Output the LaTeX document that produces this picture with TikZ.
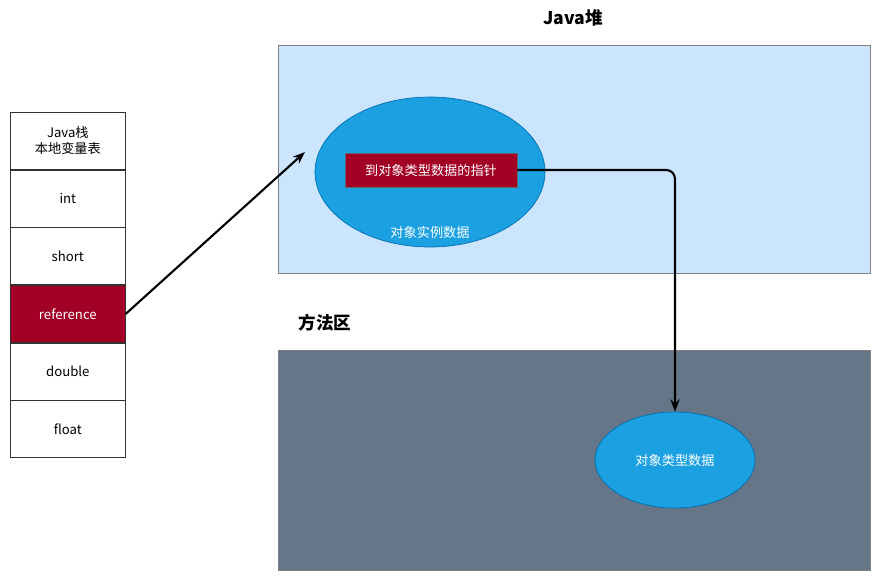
\documentclass[tikz,border=0pt]{standalone}
\usepackage{fontspec}
\setmainfont{Noto Sans CJK SC}
\usepackage{tikz}
\usetikzlibrary{positioning,arrows.meta,shapes.geometric}
\definecolor{heapblue}{HTML}{CCE5FF}
\definecolor{ellblue}{HTML}{1BA1E2}
\definecolor{ellborder}{HTML}{006EAF}
\definecolor{refred}{HTML}{A20025}
\definecolor{slate}{HTML}{647687}
\begin{document}
\begin{tikzpicture}[x=0.02cm, y=-0.02cm,
  cell/.style={draw=black!80, minimum width=2.3cm, minimum height=1.14cm, font=\fontsize{7.5}{9}\selectfont, align=center, inner sep=0pt},
  area/.style={draw=black!50, anchor=north west, inner sep=0pt},
  blob/.style={ellipse, draw=ellborder, fill=ellblue, text=white, font=\fontsize{7.5}{9}\selectfont, inner sep=0pt},
  title/.style={font=\fontsize{10}{12}\selectfont\bfseries},
  link/.style={-{Stealth[length=7pt]}, very thick, rounded corners=5pt}
]
\useasboundingbox (0,0) rectangle (879,586);

% Java stack
\node[cell, anchor=north west] (head) at (10,112) {Java栈\\本地变量表};
\node[cell, below=0pt of head] (int) {int};
\node[cell, below=0pt of int] (short) {short};
\node[cell, below=0pt of short, fill=refred, text=white] (ref) {reference};
\node[cell, below=0pt of ref] (double) {double};
\node[cell, below=0pt of double] (float) {float};

% Heap
\node[title] (heaptitle) at (573,18) {Java堆};
\node[area, fill=heapblue, minimum width=11.84cm, minimum height=4.56cm] (heap) at (278,45) {};
\node[blob, minimum width=4.6cm, minimum height=3cm] (inst) at (430,172) {};
\node[white, font=\fontsize{7.5}{9}\selectfont] (instlabel) at (430,232) {对象实例数据};
\node[draw=black!60, fill=refred, text=white, font=\fontsize{7.5}{9}\selectfont, minimum width=3.44cm, minimum height=0.68cm, inner sep=0pt] (ptr) at (431,170) {到对象类型数据的指针};

% Method area
\node[title] (methtitle) at (325,323) {方法区};
\node[area, fill=slate, minimum width=11.84cm, minimum height=4.4cm] (meth) at (278,350) {};
\node[blob, minimum width=3.2cm, minimum height=1.92cm] (type) at (675,460) {对象类型数据};

% Arrows
\coordinate (hit) at (305,152);
\draw[link] (ref.east) -- (hit);
\draw[link] (ptr.east) -| (type.north);
\end{tikzpicture}
\end{document}
